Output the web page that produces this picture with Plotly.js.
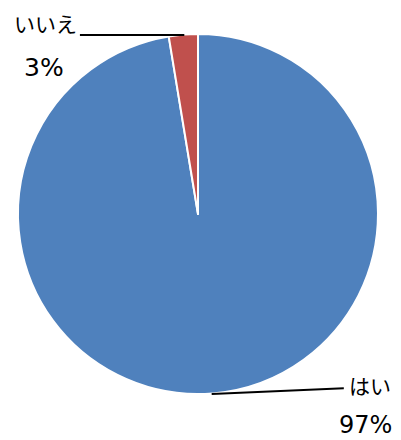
<!DOCTYPE html>
<html><head><meta charset="utf-8">
<script src="https://cdn.plot.ly/plotly-3.0.1.min.js"></script>
<style>html,body{margin:0;padding:0;background:#fff;}#chart{width:401px;height:440px;}</style>
</head><body><div id="chart"></div>
<script>
const labels = ['はい', 'いいえ'];
const values = [97.4, 2.6];
const colors = ['#4F81BD', '#C0504D'];

const total = values.reduce((a, b) => a + b, 0);
const pct = values.map(v => Math.round(v / total * 100) + '%');

const FONT_CJK = '"Noto Sans CJK JP", "DejaVu Sans", sans-serif';
const FONT_NUM = '"DejaVu Sans", sans-serif';

const trace = {
  type: 'pie',
  labels: labels,
  values: values,
  sort: false,
  direction: 'clockwise',
  rotation: 0,
  marker: {colors: colors, line: {color: '#ffffff', width: 2}},
  textinfo: 'none',
  hoverinfo: 'none',
  showlegend: false
};

const layout = {
  width: 401, height: 440,
  margin: {l: 18, r: 23, t: 34, b: 46},
  paper_bgcolor: '#ffffff',
  showlegend: false,
  font: {family: FONT_CJK, color: '#000000', size: 22},
  shapes: [
    {type: 'line', xref: 'paper', yref: 'paper', x0: 0.172, y0: 0.997, x1: 0.462, y1: 0.997, line: {color: '#000', width: 2}},
    {type: 'line', xref: 'paper', yref: 'paper', x0: 0.538, y0: 0.0, x1: 0.905, y1: 0.016, line: {color: '#000', width: 2}}
  ],
  annotations: [
    {xref: 'paper', yref: 'paper', x: -0.017, y: 1.03, xanchor: 'left', yanchor: 'middle', text: labels[1], showarrow: false, font: {family: FONT_CJK, size: 21}},
    {xref: 'paper', yref: 'paper', x: 0.011, y: 0.906, xanchor: 'left', yanchor: 'middle', text: pct[1], showarrow: false, font: {family: FONT_NUM, size: 25}},
    {xref: 'paper', yref: 'paper', x: 0.915, y: 0.025, xanchor: 'left', yanchor: 'middle', text: labels[0], showarrow: false, font: {family: FONT_CJK, size: 21}},
    {xref: 'paper', yref: 'paper', x: 0.89, y: -0.086, xanchor: 'left', yanchor: 'middle', text: pct[0], showarrow: false, borderpad: 0, font: {family: FONT_NUM, size: 24}}
  ]
};

Plotly.newPlot('chart', [trace], layout, {displayModeBar: false, staticPlot: true});
</script>
</body></html>
